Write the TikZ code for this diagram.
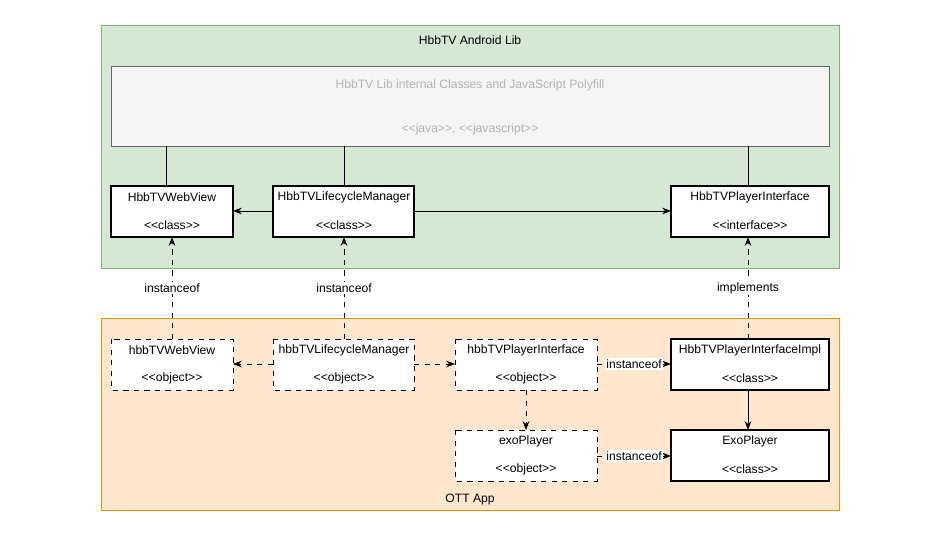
\documentclass[tikz,border=0pt]{standalone}
\usepackage{fontspec}
\setmainfont{Liberation Sans}
\usetikzlibrary{positioning,arrows.meta}
\definecolor{greenfill}{HTML}{D5E8D4}
\definecolor{greenline}{HTML}{82B366}
\definecolor{orangefill}{HTML}{FFE6CC}
\definecolor{orangeline}{HTML}{D79B00}
\definecolor{greyfill}{HTML}{F5F5F5}
\definecolor{greytext}{HTML}{B3B3B3}
\begin{document}
\begin{tikzpicture}[x=0.02cm,y=-0.02cm,
    font=\fontsize{6.9}{8}\selectfont,
    cls/.style = {draw, line width=1.4pt, fill=white},
    obj/.style = {draw, dashed, fill=white},
    lbl/.style = {fill=white, inner sep=1pt},
    >={Stealth[length=5pt]}]
    \useasboundingbox (0,0) rectangle (952,536);
    % Bereiche
    \draw[greenline, fill=greenfill] (101,25) rectangle (839,268);
    \node at (470,40) {HbbTV Android Lib};
    \draw[orangeline, fill=orangefill] (101,318) rectangle (839,510);
    \node at (470,500) {OTT App};
    \draw[black!60, fill=greyfill] (111,66) rectangle (829,146);
    \node[greytext] at (470,85) {HbbTV Lib internal Classes and JavaScript Polyfill};
    \node[greytext] at (470,129) {<{}<java>{}>, <{}<javascript>{}>};
    \coordinate (g1) at (166,146);
    \coordinate (g2) at (344,146);
    \coordinate (g3) at (748,146);

    % Klassen
    \draw[cls] (111,186) rectangle (233,237);
    \draw[cls] (273,186) rectangle (414,237);
    \draw[cls] (671,186) rectangle (829,237);
    \draw[cls] (671,339) rectangle (829,390);
    \draw[cls] (671,430) rectangle (829,481);
    % Objekte
    \draw[obj] (111,339) rectangle (233,390);
    \draw[obj] (273,339) rectangle (414,390);
    \draw[obj] (455,339) rectangle (597,390);
    \draw[obj] (455,430) rectangle (597,481);

    \foreach \n/\x/\y/\a/\b in {
        wv/172/186/HbbTVWebView/class,
        lm/344/186/HbbTVLifecycleManager/class,
        pi/750/186/HbbTVPlayerInterface/interface,
        impl/750/339/HbbTVPlayerInterfaceImpl/class,
        exo/750/430/ExoPlayer/class,
        owv/172/339/hbbTVWebView/object,
        olm/344/339/hbbTVLifecycleManager/object,
        opi/526/339/hbbTVPlayerInterface/object,
        oexo/526/430/exoPlayer/object} {
        \node (\n) at (\x,\y+11) {\a};
        \node at (\x,\y+39) {<{}<\b>{}>};
    }

    % Knoten fuer Kanten
    \coordinate (wvT) at (166,186); \coordinate (wvB) at (172,237);
    \coordinate (wvR) at (233,211);
    \coordinate (lmT) at (344,186); \coordinate (lmB) at (344,237);
    \coordinate (lmL) at (273,211); \coordinate (lmR) at (414,211);
    \coordinate (piT) at (748,186); \coordinate (piB) at (748,237);
    \coordinate (piL) at (671,211);
    \coordinate (owvT) at (172,339); \coordinate (owvR) at (233,364);
    \coordinate (olmT) at (344,339); \coordinate (olmL) at (273,364);
    \coordinate (olmR) at (414,364);
    \coordinate (opiL) at (455,364); \coordinate (opiR) at (597,364);
    \coordinate (opiB) at (526,390);
    \coordinate (oexoT) at (526,430); \coordinate (oexoR) at (597,456);
    \coordinate (implL) at (671,364); \coordinate (implT) at (748,339);
    \coordinate (implB) at (748,390);
    \coordinate (exoL) at (671,456); \coordinate (exoT) at (748,430);

    % Kanten
    \draw (g1) -- (wvT);
    \draw (g2) -- (lmT);
    \draw (g3) -- (piT);
    \draw[->] (lmL) -- (wvR);
    \draw[->] (lmR) -- (piL);
    \draw[dashed, ->] (owvT) -- node[lbl] {instanceof} (wvB);
    \draw[dashed, ->] (olmT) -- node[lbl] {instanceof} (lmB);
    \draw[dashed, ->] (implT) -- node[lbl] {implements} (piB);
    \draw[dashed, ->] (olmL) -- (owvR);
    \draw[dashed, ->] (olmR) -- (opiL);
    \draw[dashed, ->] (opiR) -- node[lbl] {instanceof} (implL);
    \draw[dashed, ->] (opiB) -- (oexoT);
    \draw[dashed, ->] (oexoR) -- node[lbl] {instanceof} (exoL);
    \draw[->] (implB) -- (exoT);
\end{tikzpicture}
\end{document}
